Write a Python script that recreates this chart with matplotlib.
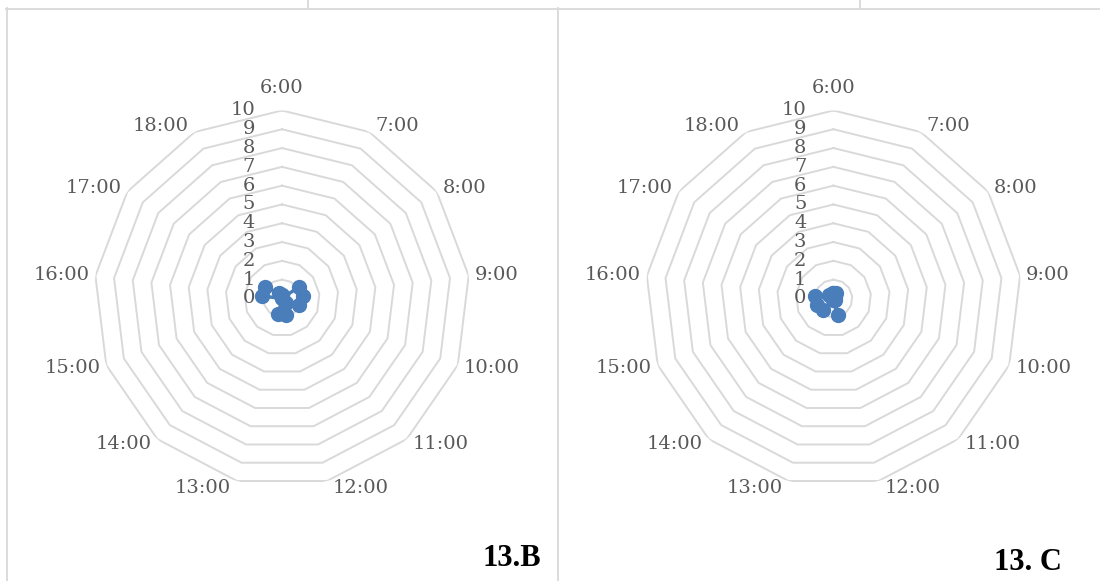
import numpy as np
import matplotlib
matplotlib.use("Agg")
import matplotlib.pyplot as plt
from matplotlib.lines import Line2D

hours = ["6:00", "7:00", "8:00", "9:00", "10:00", "11:00", "12:00",
         "13:00", "14:00", "15:00", "16:00", "17:00", "18:00"]
rticks = [0, 1, 2, 3, 4, 5, 6, 7, 8, 9, 10]

# values
vals_b = [0.2, 0.0, 1.1, 1.1, 0.95, 0.3, 0.9, 0.85, 0.0, 0.0, 1.1, 1.1, 0.3]
vals_c = [0.3, 0.3, 0.1, 0.0, 0.0, 0.1, 0.9, 0.1, 0.8, 0.93, 1.0, 0.3, 0.2]

panel_titles = ["13.B", "13. C"]

blue = "#4a7ebb"
grey_txt = "#595959"
grid_c = "#d9d9d9"
fs = 14

fig = plt.figure(figsize=(11, 5.81), dpi=100)

angles = np.linspace(0, 2 * np.pi, len(hours), endpoint=False)
ring_ang = np.append(angles, angles[0])

axes = []
for left, vals in [(0.0855, vals_b), (0.5868, vals_c)]:
    ax = fig.add_axes([left, 0.1627, 0.3418, 0.6472], projection="polar")
    ax.set_theta_zero_location("N")
    ax.set_theta_direction(-1)
    ax.set_ylim(0, 10)
    ax.grid(False)
    ax.set_xticks([])
    ax.set_yticks([])
    ax.spines["polar"].set_visible(False)
    ax.patch.set_alpha(0)
    # polygon rings
    for r in rticks[1:]:
        ax.plot(ring_ang, [r] * len(ring_ang), color=grid_c, lw=1.4, zorder=1)
    # radial labels
    for r in rticks:
        ax.annotate(str(r), (0, r), xytext=(-27, 0), textcoords="offset pixels",
                    ha="right", va="center", fontsize=fs, color=grey_txt,
                    family="DejaVu Serif")
    v = list(vals) + [vals[0]]
    ax.plot(ring_ang, v, color=blue, lw=2.5, marker="o", ms=10, zorder=3,
            clip_on=False)
    axes.append(ax)

# category labels next to the outer ring vertices, shifted sideways like Excel
anns = []
for ax in axes:
    for th, lbl in zip(angles, hours):
        a = ax.annotate(lbl, (th, 10), xytext=(0, 0), textcoords="offset pixels",
                        ha="center", va="center", fontsize=fs, color=grey_txt,
                        family="DejaVu Serif", annotation_clip=False)
        anns.append((a, th))

fig.canvas.draw()
rend = fig.canvas.get_renderer()
for a, th in anns:
    bb = a.get_window_extent(rend)
    sx, sy = np.sin(th), np.cos(th)
    if abs(sx) < 1e-6:
        a.xyann = (0, 22)
    else:
        a.xyann = (np.sign(sx) * (bb.width / 2 + 6), 7 * sy)

# panel titles
fig.text(512 / 1100, 1 - 559 / 581, panel_titles[0], ha="center", va="center",
         fontsize=22, fontweight="bold", family="Liberation Serif", color="black")
fig.text(1028 / 1100, 1 - 563 / 581, panel_titles[1], ha="center", va="center",
         fontsize=22, fontweight="bold", family="Liberation Serif", color="black")

# frame lines of the surrounding table
def px_line(x0, y0, x1, y1):
    fig.add_artist(Line2D([x0 / 1100, x1 / 1100], [1 - y0 / 581, 1 - y1 / 581],
                          color=grid_c, lw=1.3, transform=fig.transFigure))

px_line(6, 8.5, 1100, 8.5)
px_line(6.5, 8, 6.5, 581)
px_line(558, 8, 558, 581)
px_line(308, 0, 308, 8)
px_line(860, 0, 860, 8)

fig.savefig("out.png", dpi=100)
